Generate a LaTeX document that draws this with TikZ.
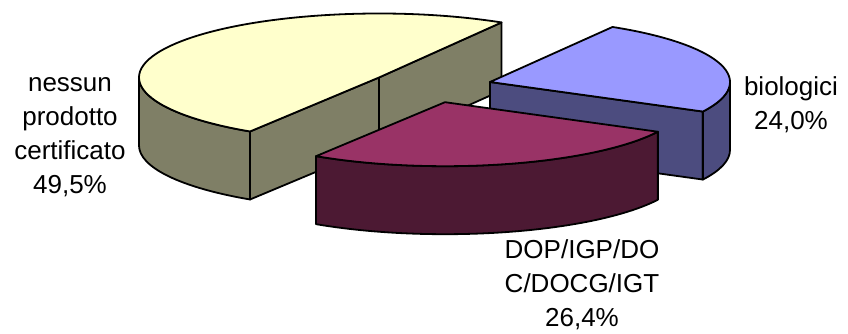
\documentclass[tikz,border=0pt]{standalone}
\usepackage{fontspec}
\setmainfont{Liberation Sans}

\definecolor{yeltop}{HTML}{FFFFCC}
\definecolor{yelside}{HTML}{7F7F66}
\definecolor{biotop}{HTML}{9999FF}
\definecolor{bioside}{HTML}{4C4C7F}
\definecolor{doptop}{HTML}{993366}
\definecolor{dopside}{HTML}{4C1933}

\newcommand{\pieh}{68}

\tikzset{
  face/.style={draw=black, line width=1.8pt, line join=round},
  rim/.style={x radius=240, y radius=64},
  lbl/.style={align=center, font=\fontsize{26}{34}\selectfont, inner sep=0pt},
}

\begin{document}
\begin{tikzpicture}[x=1pt,y=1pt]
  \useasboundingbox (0,0) rectangle (848,-334);

  % exploded slice centres
  \coordinate (Y) at (379,-77.5);
  \coordinate (B) at (490,-82);
  \coordinate (M) at (445,-102.2);

  \path (Y) ++(59.3:240 and 64) coordinate (Ya)
        (Y) ++(237.5:240 and 64) coordinate (Yb)
        (Y) ++(180:240 and 64) coordinate (Yl)
        (B) ++(-27.5:240 and 64) coordinate (Ba)
        (M) ++(237.5:240 and 64) coordinate (Ma);

  % nessun prodotto certificato
  \filldraw[face, fill=yelside] (Yl) arc[rim, start angle=180, end angle=237.5]
    -- ++(0,-\pieh) arc[rim, start angle=237.5, end angle=180] -- cycle;
  \filldraw[face, fill=yelside] (Y) -- (Ya) -- ++(0,-\pieh) -- ([yshift=-\pieh pt]Y) -- cycle;
  \filldraw[face, fill=yelside] (Y) -- (Yb) -- ++(0,-\pieh) -- ([yshift=-\pieh pt]Y) -- cycle;
  \filldraw[face, fill=yeltop] (Y) -- (Ya) arc[rim, start angle=59.3, end angle=237.5] -- cycle;

  % biologici
  \filldraw[face, fill=bioside] (B) -- (Ba) -- ++(0,-\pieh) -- ([yshift=-\pieh pt]B) -- cycle;
  \filldraw[face, fill=bioside] (Ba) arc[rim, start angle=-27.5, end angle=0]
    -- ++(0,-\pieh) arc[rim, start angle=0, end angle=-27.5] -- cycle;
  \filldraw[face, fill=biotop] (B) -- (Ba) arc[rim, start angle=-27.5, end angle=59.3] -- cycle;

  % DOP/IGP/DOC/DOCG/IGT
  \filldraw[face, fill=dopside] (Ma) arc[rim, start angle=237.5, end angle=332.5]
    -- ++(0,-\pieh) arc[rim, start angle=332.5, end angle=237.5] -- cycle;
  \filldraw[face, fill=doptop] (M) -- (Ma) arc[rim, start angle=237.5, end angle=332.5] -- cycle;

  \node[lbl] (nessun) at (70,-137) {nessun\\prodotto\\certificato\\49,5\%};
  \node[lbl] (bio) at (791,-105) {biologici\\24,0\%};
  \node[lbl] (dop) at (582,-285) {DOP/IGP/DO\\C/DOCG/IGT\\26,4\%};
\end{tikzpicture}
\end{document}
